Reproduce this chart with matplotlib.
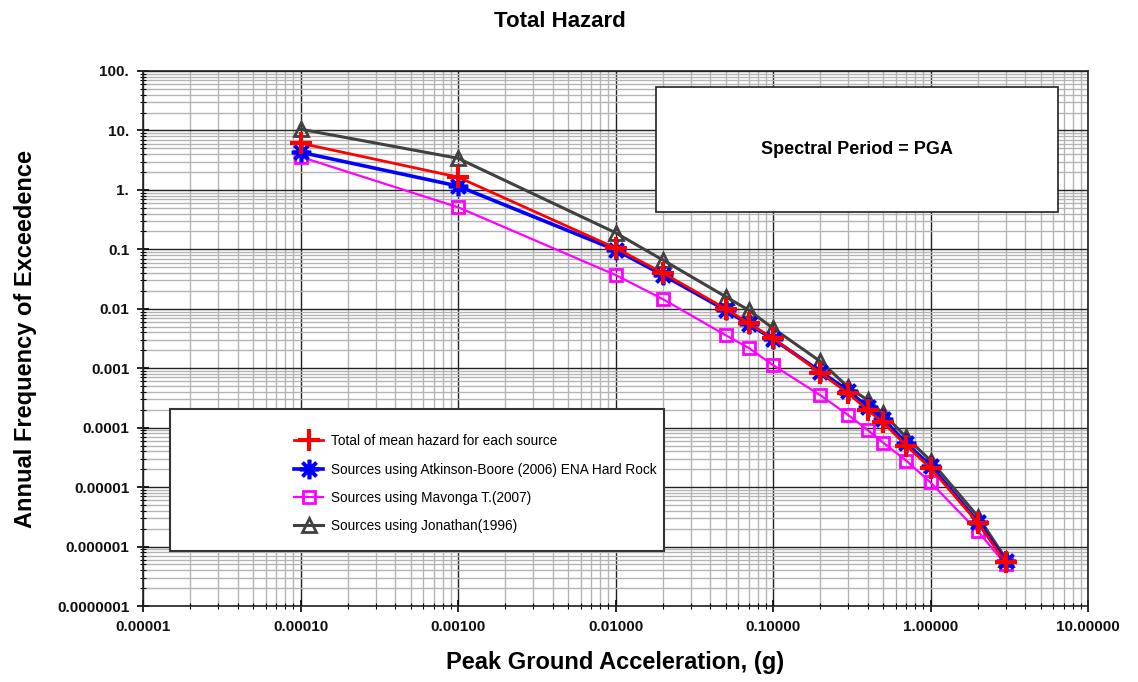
import numpy as np
import matplotlib.pyplot as plt
from matplotlib.patches import Rectangle
from matplotlib.ticker import FixedLocator, LogLocator, NullFormatter

plt.rcParams["font.family"] = ["Liberation Sans", "DejaVu Sans"]

# peak ground acceleration levels (g)
pga = [0.0001, 0.001, 0.01, 0.02, 0.05, 0.07, 0.1, 0.2, 0.3, 0.4, 0.5, 0.7, 1.0, 2.0, 3.0]

# annual frequency of exceedence per source model
total_mean = [6.1, 1.64, 0.105, 0.040, 0.0100, 0.0057, 0.0032, 0.00083, 0.00038,
              0.000196, 0.000123, 5.0e-5, 2.1e-5, 2.5e-6, 5.4e-7]
atkinson_boore = [4.3, 1.16, 0.098, 0.037, 0.0095, 0.0055, 0.0031, 0.00088, 0.00042,
                  0.00022, 0.00014, 5.5e-5, 2.3e-5, 2.6e-6, 5.8e-7]
mavonga = [3.6, 0.51, 0.037, 0.0145, 0.0036, 0.0022, 0.00113, 0.00035, 0.000163,
           9.1e-5, 5.6e-5, 2.8e-5, 1.2e-5, 1.8e-6, 5.0e-7]
jonathan = [10.5, 3.4, 0.19, 0.066, 0.016, 0.0095, 0.0047, 0.00130, 0.00048,
            0.00029, 0.000174, 6.9e-5, 2.8e-5, 3.2e-6, 6.3e-7]

x_ticks = [1e-5, 1e-4, 1e-3, 1e-2, 1e-1, 1, 10]
x_labels = ["0.00001", "0.00010", "0.00100", "0.01000", "0.10000", "1.00000", "10.00000"]
y_ticks = [1e-7, 1e-6, 1e-5, 1e-4, 1e-3, 1e-2, 1e-1, 1, 10, 100]
y_labels = ["0.0000001", "0.000001", "0.00001", "0.0001", "0.001", "0.01", "0.1",
            "1.", "10.", "100."]

fig = plt.figure(figsize=(11.38, 6.82), dpi=100)
ax = fig.add_axes([0.1257, 0.1114, 0.8304, 0.7845])
ax.set_xscale("log")
ax.set_yscale("log")
ax.set_xlim(1e-5, 10)
ax.set_ylim(1e-7, 100)

ax.grid(which="minor", color="#b4b4b4", lw=1.0, zorder=0)
ax.grid(which="major", color="#222222", lw=1.0, zorder=0)

ax.plot(pga, mavonga, color="#ff00ff", lw=1.6, marker="s", ms=8.5, mfc="none",
        mew=2.0, zorder=3, label="Sources using Mavonga T.(2007)")
ax.plot(pga, jonathan, color="#404040", lw=2.2, marker="^", ms=10, mfc="none",
        mew=2.0, zorder=4, label="Sources using Jonathan(1996)")
ax.plot(pga, atkinson_boore, color="#0000ff", lw=2.6, marker=(8, 2, 0), ms=14,
        mew=2.6, zorder=5, label="Sources using Atkinson-Boore (2006) ENA Hard Rock")
ax.plot(pga, total_mean, color="#ff0000", lw=2.0, marker="+", ms=16, mew=3.0,
        zorder=6, label="Total of mean hazard for each source")

ax.xaxis.set_major_locator(FixedLocator(x_ticks))
ax.set_xticklabels(x_labels)
ax.yaxis.set_major_locator(FixedLocator(y_ticks))
ax.set_yticklabels(y_labels)
ax.xaxis.set_minor_locator(LogLocator(base=10, subs=np.arange(2, 10), numticks=20))
ax.yaxis.set_minor_locator(LogLocator(base=10, subs=np.arange(2, 10), numticks=20))
ax.xaxis.set_minor_formatter(NullFormatter())
ax.yaxis.set_minor_formatter(NullFormatter())
ax.tick_params(which="major", direction="inout", length=8, width=1.2,
               labelsize=11, pad=6)
ax.tick_params(which="minor", direction="inout", length=5, width=0.8)
for lab in ax.get_xticklabels() + ax.get_yticklabels():
    lab.set_fontweight("bold")
    lab.set_color("#111111")
for s in ax.spines.values():
    s.set_color("#222222")
    s.set_linewidth(1.2)

ax.set_xlabel("Peak Ground Acceleration, (g)", fontsize=17, fontweight="bold", labelpad=12)
ax.set_ylabel("Annual Frequency of Exceedence", fontsize=17, fontweight="bold", labelpad=14)
fig.text(0.492, 0.968, "Total Hazard", ha="center", va="center", fontsize=16,
         fontweight="bold")

# period annotation box
ax.add_patch(Rectangle((0.543, 0.736), 0.425, 0.234, transform=ax.transAxes,
                       facecolor="white", edgecolor="#222222", lw=1.2, zorder=8))
ax.text(0.755, 0.853, "Spectral Period = PGA", transform=ax.transAxes, ha="center",
        va="center", fontsize=13, fontweight="bold", zorder=9)

# legend inside a wide framed box
ax.add_patch(Rectangle((0.0286, 0.103), 0.523, 0.265, transform=ax.transAxes,
                       facecolor="white", edgecolor="#333333", lw=1.5, zorder=8))
handles, labels = ax.get_legend_handles_labels()
order = [3, 2, 0, 1]
leg = ax.legend([handles[i] for i in order], [labels[i] for i in order],
                loc="upper left", bbox_to_anchor=(0.147, 0.344), frameon=False,
                fontsize=9.8, handlelength=2.1, handletextpad=0.6,
                labelspacing=1.05, markerscale=1.0)
leg.set_zorder(10)

fig.savefig("out.png", dpi=100)
